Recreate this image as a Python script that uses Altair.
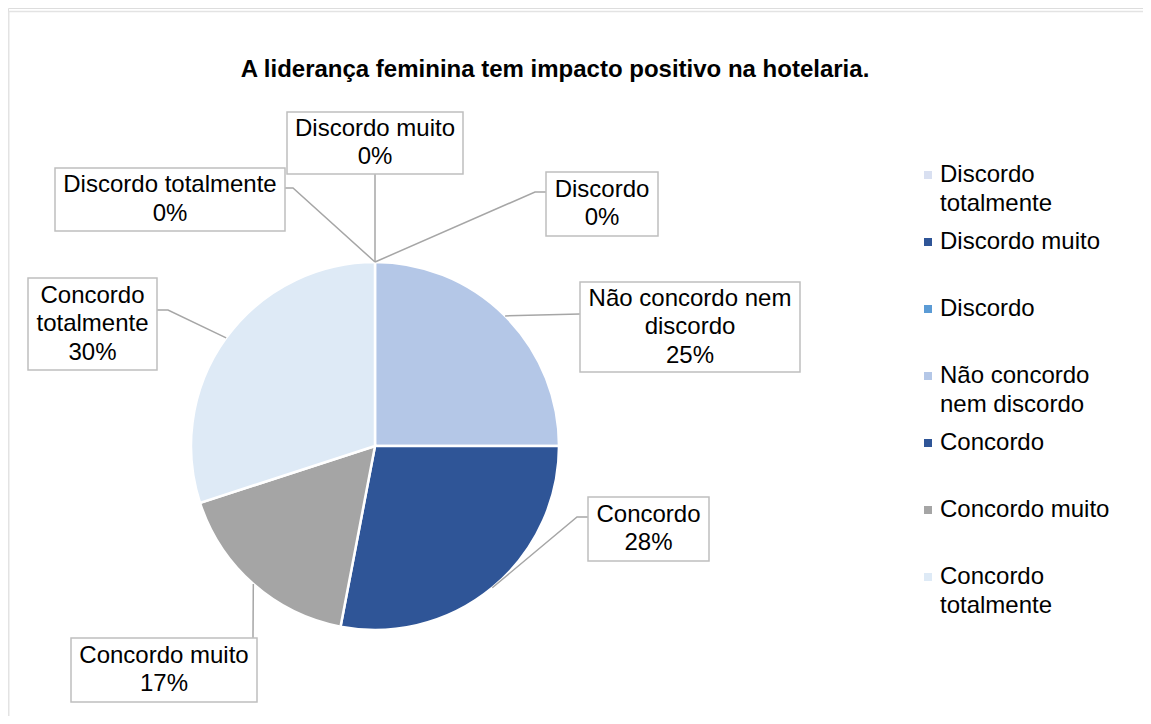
import altair as alt
import pandas as pd
import numpy as np

# ---------------- data ----------------
categories = ["Discordo totalmente", "Discordo muito", "Discordo",
              "Não concordo nem discordo", "Concordo", "Concordo muito",
              "Concordo totalmente"]
values = [0, 0, 0, 25, 28, 17, 30]
colors = ["#D9E0F1", "#2F5597", "#5B9BD5", "#B4C7E7", "#2F5597", "#A5A5A5", "#DEEAF6"]
title_text = "A liderança feminina tem impacto positivo na hotelaria."

# text wrapping as in the original
label_lines = [["Discordo totalmente"], ["Discordo muito"], ["Discordo"],
               ["Não concordo nem", "discordo"], ["Concordo"], ["Concordo muito"],
               ["Concordo", "totalmente"]]
legend_lines = [["Discordo", "totalmente"], ["Discordo muito"], ["Discordo"],
                ["Não concordo", "nem discordo"], ["Concordo"], ["Concordo muito"],
                ["Concordo", "totalmente"]]

# ---------------- layout (page pixels) ----------------
OX, OY = 8, 8
W, H = 1135, 708
CX, CY, R = 375, 446, 184
boxes = [(55, 168, 285, 231), (287, 112, 463, 174), (546, 172, 658, 236),
         (580, 282, 800, 372), (588, 497, 709, 561), (71, 638, 257, 702),
         (28, 278, 157, 370)]
attach = [(285, 188), (375, 174), (546, 192), (580, 314), (588, 517),
          (253, 638), (157, 310)]
elbow = [(293, 188), (375, 174), (535, 192), (580, 314), (577, 517),
         (253, 638), (168, 310)]
LINE_H_LABEL = 28.5
LEG_X_MARK, LEG_X_TEXT, LEG_Y0, LEG_STEP, LEG_LINE_H = 928, 940, 175, 67, 29
FONT = "Liberation Sans"
FS = 24

total = sum(values)

# ---------------- tables ----------------
pie_df = pd.DataFrame({"category": categories, "value": values,
                       "idx": list(range(len(categories)))})

color_scale = alt.Scale(domain=categories, range=colors)

# leader lines
cum = np.cumsum([0] + values[:-1])
rows = []
for i, cat in enumerate(categories):
    mid = (cum[i] + values[i] / 2) / total * 2 * np.pi
    ex = CX + R * np.sin(mid)
    ey = CY - R * np.cos(mid)
    pts = [attach[i], elbow[i], (ex, ey)]
    for k, (px, py) in enumerate(pts):
        rows.append({"category": cat, "seq": k, "x": px - OX, "y": py - OY})
lines_df = pd.DataFrame(rows)

# boxes
box_df = pd.DataFrame([{"category": c, "x": b[0] - OX, "y": b[1] - OY,
                        "x2": b[2] - OX, "y2": b[3] - OY}
                       for c, b in zip(categories, boxes)])

# label texts
trows = []
for i, cat in enumerate(categories):
    pct = f"{round(values[i] / total * 100)}%"
    lines = label_lines[i] + [pct]
    b = boxes[i]
    bx = (b[0] + b[2]) / 2
    by = (b[1] + b[3]) / 2
    n = len(lines)
    for j, t in enumerate(lines):
        trows.append({"t": t, "x": bx - OX,
                      "y": by + (j - (n - 1) / 2) * LINE_H_LABEL - OY})
label_df = pd.DataFrame(trows)

# legend
leg_mark = pd.DataFrame([{"category": c, "x": LEG_X_MARK - OX,
                          "y": LEG_Y0 + i * LEG_STEP - OY}
                         for i, c in enumerate(categories)])
lrows = []
for i, c in enumerate(categories):
    for j, t in enumerate(legend_lines[i]):
        lrows.append({"t": t, "x": LEG_X_TEXT - OX,
                      "y": LEG_Y0 + i * LEG_STEP + j * LEG_LINE_H - OY})
leg_text = pd.DataFrame(lrows)

title_df = pd.DataFrame({"t": [title_text], "x": [555 - OX], "y": [70 - OY]})
# chart frame: only top and left edges are inside the picture
frame_df = pd.DataFrame({"x": [0.75, 0.75], "y": [3.5, 3.5],
                         "x2": [W, 0.75], "y2": [3.5, H]})

X = lambda f: alt.X(f, scale=None, axis=None)
Y = lambda f: alt.Y(f, scale=None, axis=None)

frame = alt.Chart(frame_df).mark_rule(color="#E3E3E3", strokeWidth=1.5).encode(
    x=X("x:Q"), y=Y("y:Q"), x2="x2:Q", y2="y2:Q")

pie = alt.Chart(pie_df).mark_arc(outerRadius=R, stroke="white", strokeWidth=2.5).encode(
    theta=alt.Theta("value:Q", stack=True),
    order=alt.Order("idx:Q"),
    color=alt.Color("category:N", scale=color_scale, legend=None),
    x=alt.value(CX - OX), y=alt.value(CY - OY))

leaders = alt.Chart(lines_df).mark_line(color="#A6A6A6", strokeWidth=1.5).encode(
    x=X("x:Q"), y=Y("y:Q"), detail="category:N", order="seq:Q")

box = alt.Chart(box_df).mark_rect(fill="white", stroke="#BFBFBF", strokeWidth=1.5).encode(
    x=X("x:Q"), y=Y("y:Q"), x2="x2:Q", y2="y2:Q")

labels = alt.Chart(label_df).mark_text(font=FONT, fontSize=FS, color="#000000",
                                       align="center", baseline="middle").encode(
    x=X("x:Q"), y=Y("y:Q"), text="t:N")

leg_sq = alt.Chart(leg_mark).mark_square(size=64, opacity=1, filled=True).encode(
    x=X("x:Q"), y=Y("y:Q"),
    color=alt.Color("category:N", scale=color_scale, legend=None))

leg_tx = alt.Chart(leg_text).mark_text(font=FONT, fontSize=FS, color="#000000",
                                       align="left", baseline="middle").encode(
    x=X("x:Q"), y=Y("y:Q"), text="t:N")

title = alt.Chart(title_df).mark_text(font=FONT, fontSize=FS, fontWeight="bold",
                                      color="#000000", align="center",
                                      baseline="middle").encode(
    x=X("x:Q"), y=Y("y:Q"), text="t:N")

chart = alt.layer(frame, pie, leaders, box, labels, leg_sq, leg_tx, title).properties(
    width=W, height=H, padding=0, autosize=alt.AutoSizeParams(type="none")
).configure_view(stroke=None).configure(background="white")

chart.save("out.html", embed_options={"renderer": "svg", "actions": False})
